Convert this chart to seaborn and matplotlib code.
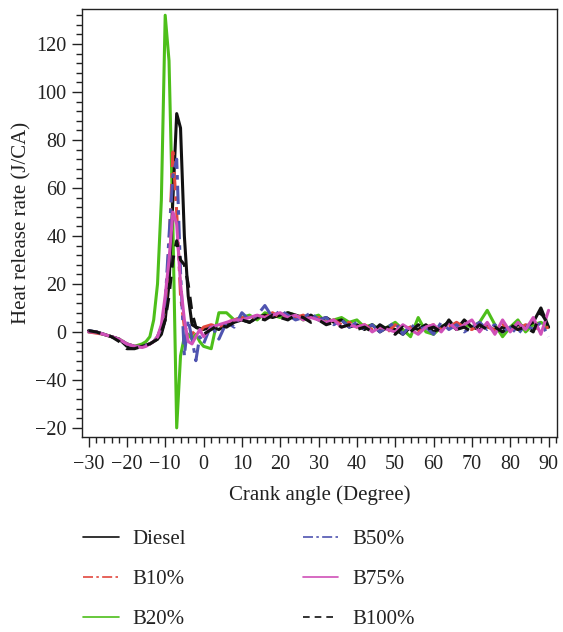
import numpy as np
import pandas as pd
import matplotlib
matplotlib.use("Agg")
import matplotlib.pyplot as plt
from matplotlib.lines import Line2D
from matplotlib.ticker import MultipleLocator, FixedLocator
import seaborn as sns

crank_angle = [-30, -28, -26, -24, -22, -20, -18, -16, -15, -14, -13, -12, -11, -10,
               -9, -8, -7, -6, -5, -4, -3, -2, -1, 0,
               2, 4, 6, 8, 10, 12, 14, 16, 18, 20, 22, 24, 26, 28, 30, 32, 34, 36, 38,
               40, 42, 44, 46, 48, 50, 52, 54, 56, 58, 60, 62, 64, 66, 68, 70, 72, 74,
               76, 78, 80, 82, 84, 86, 88, 90]

diesel = [0.5, 0, -1, -2, -3, -6, -6.5, -6, -5.5, -5, -4, -3, -1, 5,
          20, 55, 91, 85, 40, 15, 3, 2, 1.5, 1,
          2, 1, 3, 4, 5, 4, 6, 7, 6, 7, 8, 7, 6, 7, 5, 6, 4, 5, 2,
          3, 1, 3, 0, 2, 1, -1, 2, 1, 3, 0, 2, 4, 1, 5, 2, 1, 3,
          0, 2, 1, 3, 2, 4, 10, 2]
b10 = [0, -0.5, -1, -2, -3, -5, -6, -6, -5.5, -5, -4, -2, 2, 10,
       35, 75, 50, 15, 2, 0, -1, 1, 0, 2,
       3, 2, 4, 5, 6, 5, 7, 6, 8, 6, 7, 6, 7, 5, 6, 4, 5, 3, 4,
       2, 3, 1, 2, 0, 3, 1, 2, 0, 2, 3, 1, 2, 4, 2, 1, 3, 2,
       1, 3, 2, 1, 3, 2, 1, 2]
b20 = [0, 0, -1, -2, -3, -5, -6, -5, -4, -2, 5, 20, 55, 132,
       113, 45, -40, -10, -2, -1, -3, -1, -4, -6,
       -7, 8, 8, 5, 6, 7, 5, 8, 7, 6, 8, 7, 5, 6, 7, 4, 5, 6, 4,
       5, 2, 3, 1, 2, 4, 1, -2, 6, 0, -1, 2, 4, 1, 3, 2, 4, 9,
       3, -2, 2, 5, 0, 3, 4, 2]
b50 = [0.5, 0, -1, -2, -3, -5, -6, -6, -5.5, -5, -4, -2, 2, 12,
       40, 65, 72, 25, -10, 5, -3, -12, -2, -5,
       3, -3, 4, 2, 8, 5, 7, 11, 6, 9, 7, 5, 6, 8, 5, 6, 3, 5, 2,
       4, 1, 3, 0, 2, 4, -1, 3, 1, 2, -1, 4, 1, 3, 0, 2, 4, 1,
       3, 0, 2, -1, 3, 1, 4, -2]
b75 = [0, 0, -1, -2, -3, -5, -6, -6.5, -6, -5, -4, -2, 3, 15,
       30, 50, 45, 20, 5, -4, -5, -2, 1, -2,
       2, 3, 4, 5, 5, 6, 7, 6, 7, 8, 6, 7, 5, 6, 5, 4, 5, 2, 3,
       2, 3, 0, 2, 1, 0, 3, 1, -1, 2, 3, 0, 4, 1, 3, 5, 0, 4,
       -1, 5, 0, 4, 1, 6, -1, 9]
b100 = [0.5, 0, -1, -2, -4, -7, -7, -6, -5.5, -5, -4, -3, 0, 5,
        15, 30, 38, 30, 28, 20, 8, 2, 1, -1,
        1, 3, 2, 4, 5, 4, 6, 5, 7, 6, 5, 7, 6, 4, 5, 3, 4, 2, 3,
        1, 2, 0, 3, 1, -1, 2, 0, 3, 1, 2, 0, 5, 1, 2, 0, 3, 1,
        2, 0, 3, 1, 2, 0, 8, 3]

series_names = ["Diesel", "B10%", "B20%", "B50%", "B75%", "B100%"]
series_values = [diesel, b10, b20, b50, b75, b100]

y_tick_pos = [120, 100, 80, 60, 40, 20, 0, -20, -40]
y_tick_labels = ["120", "100", "80", "60", "40", "20", "0", "\u221240", "\u221220"]
x_tick_pos = list(range(-30, 91, 10))
x_tick_labels = [str(v).replace("-", "\u2212") for v in x_tick_pos]

colors = {"Diesel": "#111111", "B10%": "#e2483e", "B20%": "#4dbf1a",
          "B50%": "#4f54b0", "B75%": "#d050b8", "B100%": "#111111"}
styles = {"Diesel": "-", "B10%": (0, (6, 2, 1.5, 2)), "B20%": "-",
          "B50%": (0, (6, 2, 1.5, 2)), "B75%": "-", "B100%": (0, (4, 3))}

rows = []
for name, vals in zip(series_names, series_values):
    for x, y in zip(crank_angle, vals):
        rows.append({"angle": x, "hrr": y, "fuel": name})
df = pd.DataFrame(rows)

sns.set_style("ticks")
plt.rcParams["font.family"] = ["Liberation Serif", "DejaVu Serif"]
plt.rcParams["axes.unicode_minus"] = True

fig = plt.figure(figsize=(5.63, 6.32), dpi=100)
ax = fig.add_axes([82 / 563, 1 - 437 / 632, (557 - 82) / 563, (437 - 9) / 632])

order_draw = ["B20%", "Diesel", "B10%", "B50%", "B75%", "B100%"]
for name in order_draw:
    sub = df[df["fuel"] == name]
    sns.lineplot(data=sub, x="angle", y="hrr", ax=ax, color=colors[name],
                 linestyle=styles[name], linewidth=2.2, legend=False,
                 estimator=None, sort=False)

ax.set_xlim(-31.7, 92.2)
ax.set_ylim(-43.8, 134.6)
ax.xaxis.set_major_locator(FixedLocator(x_tick_pos))
ax.set_xticklabels(x_tick_labels)
ax.xaxis.set_minor_locator(MultipleLocator(2))
ax.yaxis.set_major_locator(FixedLocator(y_tick_pos))
ax.set_yticklabels(y_tick_labels)
ax.yaxis.set_minor_locator(MultipleLocator(4))
ax.tick_params(axis="x", which="major", pad=6)
ax.tick_params(axis="both", which="major", direction="out", length=7, width=1,
               labelsize=14.5, color="#222222", labelcolor="#222222")
ax.tick_params(axis="y", which="major", pad=4)
ax.tick_params(axis="both", which="minor", direction="out", length=4, width=1,
               color="#222222")
for s in ax.spines.values():
    s.set_color("#222222")
    s.set_linewidth(1.0)
ax.set_xlabel("Crank angle (Degree)", fontsize=15, color="#222222", labelpad=8)
ax.set_ylabel("Heat release rate (J/CA)", fontsize=15, color="#222222", labelpad=3)

handles = [Line2D([0], [0], color=colors[n], linestyle=styles[n], linewidth=1.2)
           for n in series_names]
fig.legend(handles, series_names, loc="upper left", bbox_to_anchor=(0.115, 0.192),
           ncol=2, frameon=False, fontsize=15, handlelength=1.7,
           handletextpad=0.67, columnspacing=5.6, labelspacing=0.98,
           labelcolor="#222222")

fig.savefig("out.png", dpi=100)
